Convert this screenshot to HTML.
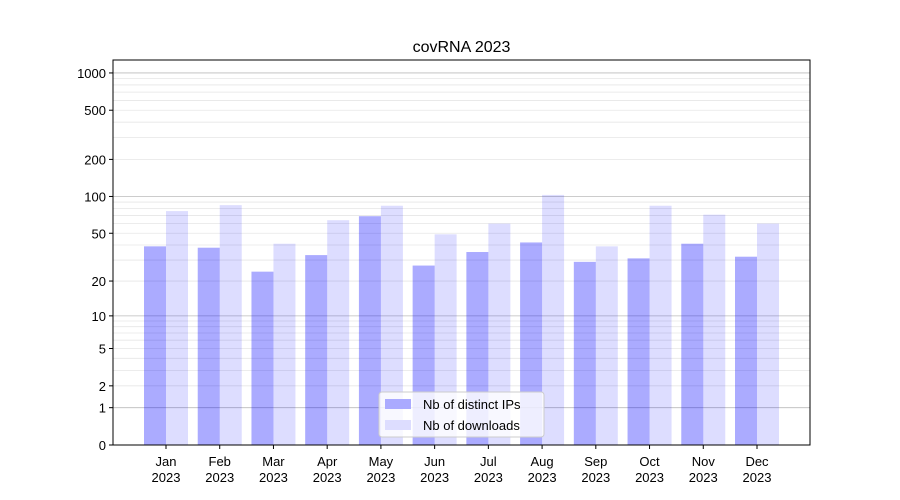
<!DOCTYPE html>
<html><head><meta charset="utf-8"><style>
html,body{margin:0;padding:0;background:#fff;}
svg{display:block;font-family:"Liberation Sans","DejaVu Sans",sans-serif;}
</style></head><body>
<svg id="chart" width="900" height="500">
<rect x="0" y="0" width="900" height="500" fill="#fff"/>
<g id="grid"></g><g id="bars"></g><g id="axes"></g>
</svg>
<script>
const months=["Jan","Feb","Mar","Apr","May","Jun","Jul","Aug","Sep","Oct","Nov","Dec"];
const ipValues=[39,38,24,33,69,27,35,42,29,31,41,32];
const downloadValues=[76,85,41,64,84,49,60,103,39,84,71,60];
const tickValues=[0,1,2,5,10,20,50,100,200,500,1000];
const tickLabels=["0","1","2","5","10","20","50","100","200","500","1000"];
const NS="http://www.w3.org/2000/svg";
const L=113,R=810,T=60,B=445;
function y(v){return B-124*Math.log10(1+v);}
function xc(i){return 166+i*(757-166)/11;}
function mk(tag,attrs,parent,text){const e=document.createElementNS(NS,tag);for(const k in attrs)e.setAttribute(k,attrs[k]);if(text!==undefined)e.textContent=text;parent.appendChild(e);return e;}
const grid=document.getElementById('grid'),bars=document.getElementById('bars'),axes=document.getElementById('axes');
[2,3,4,5,6,7,8,9,20,30,40,50,60,70,80,90,200,300,400,500,600,700,800,900].forEach(v=>{
 const l=mk('line',{x1:L,x2:R,y1:y(v),y2:y(v),stroke:'#e6e6e6','stroke-width':0.8},grid);
 
 
});
[1,10,100,1000].forEach(v=>{
 const l=mk('line',{x1:L,x2:R,y1:y(v),y2:y(v),stroke:'#bbbbbb','stroke-width':0.8},grid);
 
 
});
const bw=22;
months.forEach((m,i)=>{
 const c=xc(i);
 const b1=mk('rect',{x:c-bw,y:y(ipValues[i]),width:bw,height:B-y(ipValues[i]),fill:'#0000ff','fill-opacity':0.33},bars);
 
 
 const b2=mk('rect',{x:c,y:y(downloadValues[i]),width:bw,height:B-y(downloadValues[i]),fill:'#0000ff','fill-opacity':0.135},bars);
 
 
 mk('line',{x1:c,x2:c,y1:B,y2:B+4,stroke:'#000'},axes);
 const t=mk('text',{x:c,y:B+21,'text-anchor':'middle','font-size':13},axes,m);
 
 
 const t2=mk('text',{x:c,y:B+37,'text-anchor':'middle','font-size':13},axes,'2023');
 
 
});
tickValues.forEach((v,i)=>{
 mk('line',{x1:L-4,x2:L,y1:y(v),y2:y(v),stroke:'#000'},axes);
 const t=mk('text',{x:L-7,y:y(v)+5,'text-anchor':'end','font-size':13},axes,tickLabels[i]);
 
 
});
const fr=mk('rect',{x:L,y:T,width:R-L,height:B-T,fill:'none',stroke:'#000','stroke-width':1},axes);


const ti=mk('text',{x:(L+R)/2,y:52,'text-anchor':'middle','font-size':16},axes,'covRNA 2023');


const lg=mk('g',{},axes);


mk('rect',{x:379,y:392,width:165,height:45,rx:3,fill:'#fff','fill-opacity':0.8,stroke:'#ccc'},lg);
mk('rect',{x:385,y:399,width:26,height:10,fill:'#aaaaff'},lg);
mk('text',{x:423,y:409,'font-size':13},lg,'Nb of distinct IPs');
mk('rect',{x:385,y:420,width:26,height:10,fill:'#ddddff'},lg);
mk('text',{x:423,y:430,'font-size':13},lg,'Nb of downloads');
</script>
</body></html>
